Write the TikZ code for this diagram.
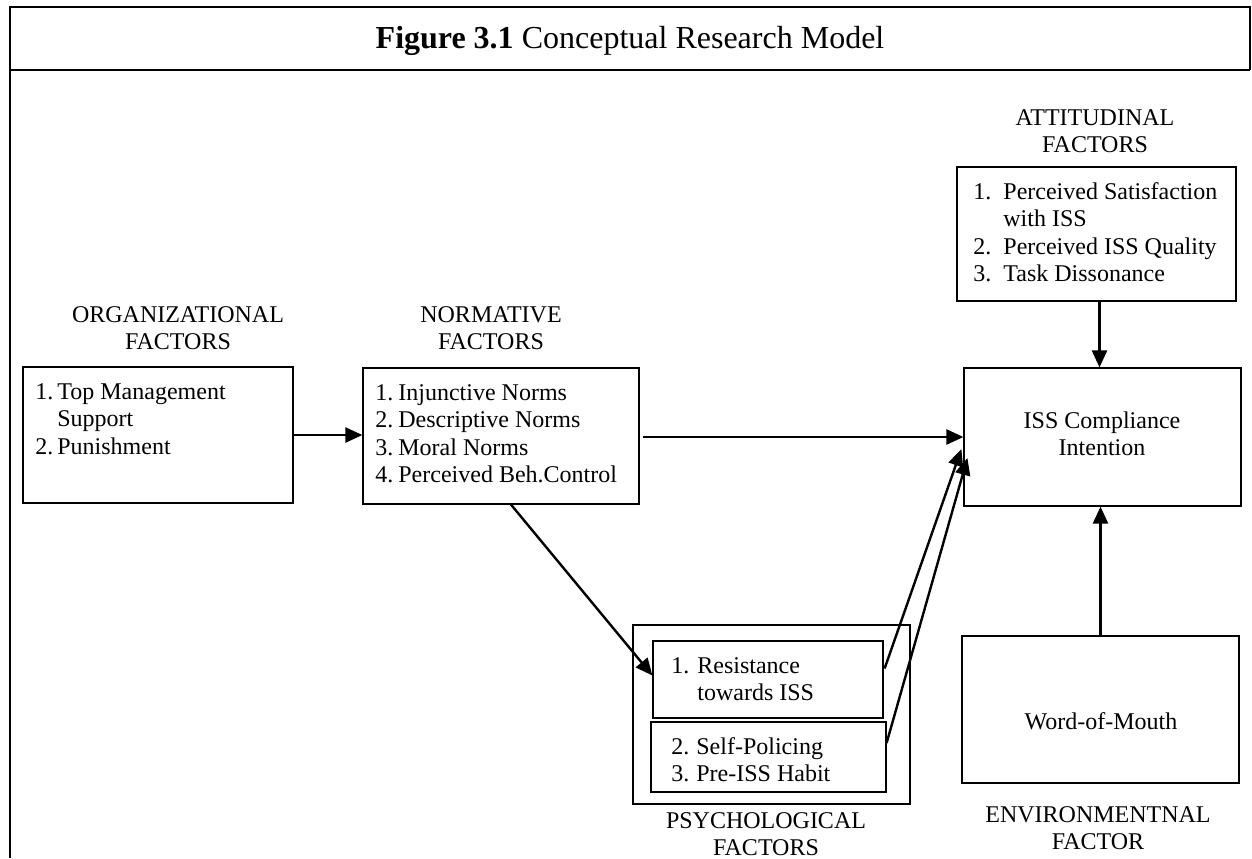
\documentclass[tikz,border=0pt]{standalone}
\usepackage{fontspec}
\setmainfont{Liberation Serif}
\usetikzlibrary{arrows.meta,calc,fit}
% numbered list entry with a hanging indent of the given width
\newcommand{\itemno}[2]{\makebox[#1][l]{#2}}
\begin{document}
\begin{tikzpicture}[x=0.5pt,y=-0.5pt,
  box/.style={draw,line width=0.6pt,rectangle,inner sep=0pt},
  txt/.style={inner sep=0pt,font=\fontsize{12pt}{13.75pt}\selectfont},
  link/.style={line width=1.2pt,-{Triangle[length=8.5pt,width=7.5pt]}},
  frameline/.style={line width=0.8pt}]
\useasboundingbox (0,0) rectangle (1252,858);

% outer frame with the title bar
\draw[frameline] (10,858) -- (10,7) -- (1250,7) -- (1250,70);
\draw[frameline] (10,70) -- (1250,70);
\node[inner sep=0pt,anchor=base,font=\fontsize{16pt}{19pt}\selectfont] (title) at (630,48)
  {\textbf{Figure 3.1} Conceptual Research Model};

% group headings
\node[txt,anchor=base] (orghead) at (178,322)
  {\begin{tabular}[t]{@{}c@{}}ORGANIZATIONAL\\FACTORS\end{tabular}};
\node[txt,anchor=base] (normhead) at (491,322)
  {\begin{tabular}[t]{@{}c@{}}NORMATIVE\\FACTORS\end{tabular}};
\node[txt,anchor=base] (atthead) at (1095,125)
  {\begin{tabular}[t]{@{}c@{}}ATTITUDINAL\\FACTORS\end{tabular}};
\node[txt,anchor=base] (psyhead) at (766,828)
  {\begin{tabular}[t]{@{}c@{}}PSYCHOLOGICAL\\FACTORS\end{tabular}};
\node[txt,anchor=base] (envhead) at (1098,822)
  {\begin{tabular}[t]{@{}c@{}}ENVIRONMENTNAL\\FACTOR\end{tabular}};

% boxes
\node[box,fit={(23,367) (293,503)}] (org) {};
\node[box,fit={(363,368) (639,504)}] (norm) {};
\node[box,fit={(957,167) (1236,301)}] (att) {};
\node[box,fit={(964,368) (1241,506)}] (iss) {};
\node[box,fit={(962,636) (1239,783)}] (wom) {};
\node[box,fit={(633,625) (910,804)}] (psy) {};
\node[box,fit={(653,641) (883,718)}] (res) {};
\node[box,fit={(651,722) (886,792)}] (hab) {};

% box contents
\node[txt,anchor=base west] (orgtxt) at (35,399)
  {\begin{tabular}[t]{@{}l@{}}\itemno{11pt}{1.}Top Management\\\itemno{11pt}{}Support\\\itemno{11pt}{2.}Punishment\end{tabular}};
\node[txt,anchor=base west] (normtxt) at (375,400)
  {\begin{tabular}[t]{@{}l@{}}\itemno{11.5pt}{1.}Injunctive Norms\\\itemno{11.5pt}{2.}Descriptive Norms\\\itemno{11.5pt}{3.}Moral Norms\\\itemno{11.5pt}{4.}Perceived Beh.Control\end{tabular}};
\node[txt,anchor=base west] (atttxt) at (973,199)
  {\begin{tabular}[t]{@{}l@{}}\itemno{15pt}{1.}Perceived Satisfaction\\\itemno{15pt}{}with ISS\\\itemno{15pt}{2.}Perceived ISS Quality\\\itemno{15pt}{3.}Task Dissonance\end{tabular}};
\node[txt,anchor=base] (isstxt) at (1102,428)
  {\begin{tabular}[t]{@{}c@{}}ISS Compliance\\Intention\end{tabular}};
\node[txt,anchor=base] (womtxt) at (1101,729) {Word-of-Mouth};
\node[txt,anchor=base west] (restxt) at (671,673)
  {\begin{tabular}[t]{@{}l@{}}\itemno{13pt}{1.}Resistance\\\itemno{13pt}{}towards ISS\end{tabular}};
\node[txt,anchor=base west] (habtxt) at (671,754)
  {\begin{tabular}[t]{@{}l@{}}\itemno{12.5pt}{2.}Self-Policing\\\itemno{12.5pt}{3.}Pre-ISS Habit\end{tabular}};

% relations
\draw[link] (org.east) -- (org.east -| norm.west);
\draw[link] ($(norm.east)+(3,1)$) -- ($(norm.east -| iss.west)+(0,1)$);
\draw[link] ($(norm.south)+(10,0)$) -- ($(res.west)+(0,-4)$);
\draw[link] ($(res.east)+(1,-11)$) -- ($(iss.west)+(-2,12)$);
\draw[link] ($(hab.east)+(0,-14)$) -- ($(iss.west)+(4,21)$);
\draw[link] ($(att.south)+(3,0)$) -- ($(att.south |- iss.north)+(3,0)$);
\draw[link] (wom.north) -- (wom.north |- iss.south);
\end{tikzpicture}
\end{document}
